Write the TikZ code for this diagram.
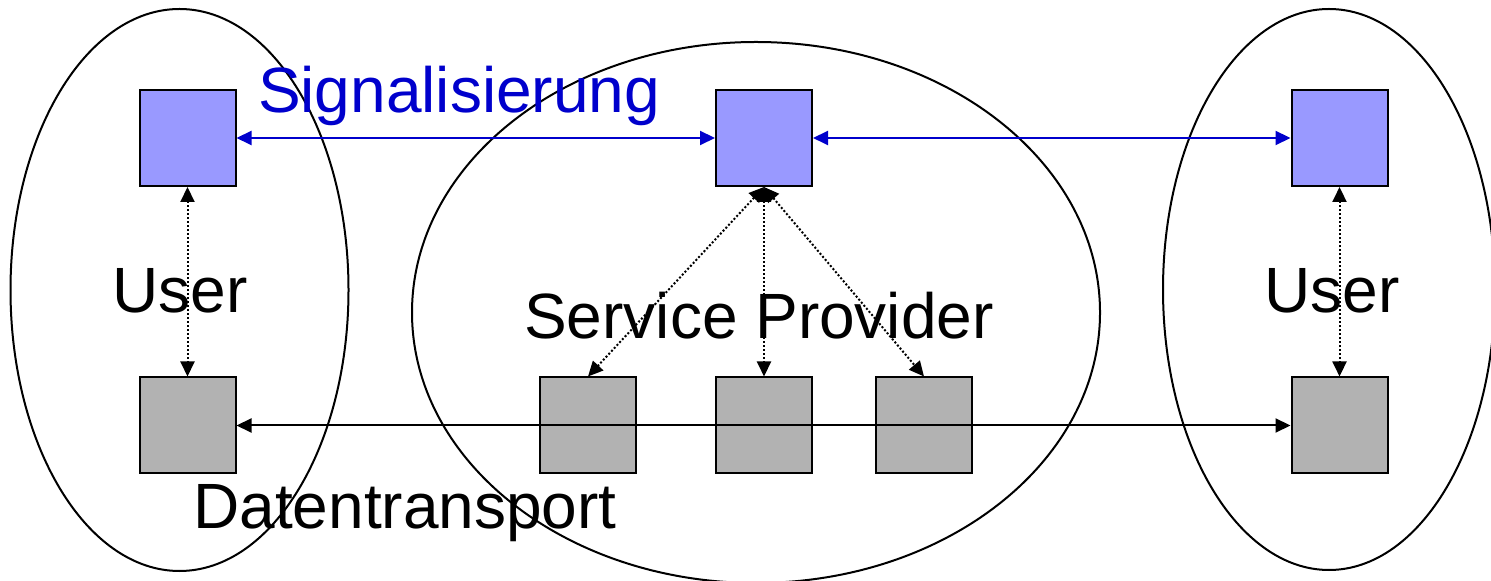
\documentclass[tikz,border=0pt]{standalone}
\usepackage{fontspec}
\setmainfont{Liberation Sans}
\usetikzlibrary{arrows.meta}
\definecolor{sigblue}{RGB}{153,153,255}
\definecolor{txtblue}{RGB}{0,0,204}
\definecolor{datgray}{RGB}{178,178,178}

\begin{document}
\begin{tikzpicture}[line width=1pt,
  sig/.style={rectangle,draw,fill=sigblue,minimum size=48pt,inner sep=0pt},
  dat/.style={rectangle,draw,fill=datgray,minimum size=48pt,inner sep=0pt},
  big/.style={font=\fontsize{32}{38}\selectfont,inner sep=0pt,anchor=base},
  pfeil/.style={{Triangle[length=7.5pt,width=7pt]}-{Triangle[length=7.5pt,width=7pt]}},
  gepunktet/.style={pfeil,densely dotted}]
\useasboundingbox (0,0) rectangle (745.5pt,-290.5pt);

% Bereiche
\draw (89.75pt,-145pt) ellipse [x radius=84.5pt,y radius=140.5pt];
\draw (378pt,-156.25pt) ellipse [x radius=172pt,y radius=135.25pt];
\draw (664.5pt,-144.75pt) ellipse [x radius=83pt,y radius=140.25pt];

% Signalisierung oben
\node[sig] (b1) at (93.75pt,-69pt) {};
\node[sig,right of=b1,node distance=288.25pt] (b2) {};
\node[sig,right of=b2,node distance=287.75pt] (b3) {};

% Datentransport unten
\node[dat,below of=b1,node distance=143.75pt] (g1) {};
\node[dat,below of=b2,node distance=143.75pt] (g3) {};
\node[dat,left of=g3,node distance=88pt] (g2) {};
\node[dat,right of=g3,node distance=80pt] (g4) {};
\node[dat,below of=b3,node distance=143.75pt] (g5) {};

\node[big,anchor=base west,text=txtblue] (sig) at (128.5pt,-56.5pt) {Signalisierung};
\node[big] (user1) at (90pt,-156.5pt) {User};
\node[big] (sp) at (379.5pt,-169.5pt) {Service Provider};
\node[big] (user2) at (666pt,-156.5pt) {User};
\node[big] (dt) at (202.5pt,-264.5pt) {Datentransport};

\draw[pfeil,txtblue] (b1) -- (b2);
\draw[pfeil,txtblue] (b2) -- (b3);
\draw[gepunktet] (b1) -- (g1);
\draw[gepunktet] (b3) -- (g5);
\draw[gepunktet] (b2.south) -- (g2.north);
\draw[gepunktet] (b2.south) -- (g3.north);
\draw[gepunktet] (b2.south) -- (g4.north);
\draw[pfeil] (g1) -- (g5);

\end{tikzpicture}
\end{document}
